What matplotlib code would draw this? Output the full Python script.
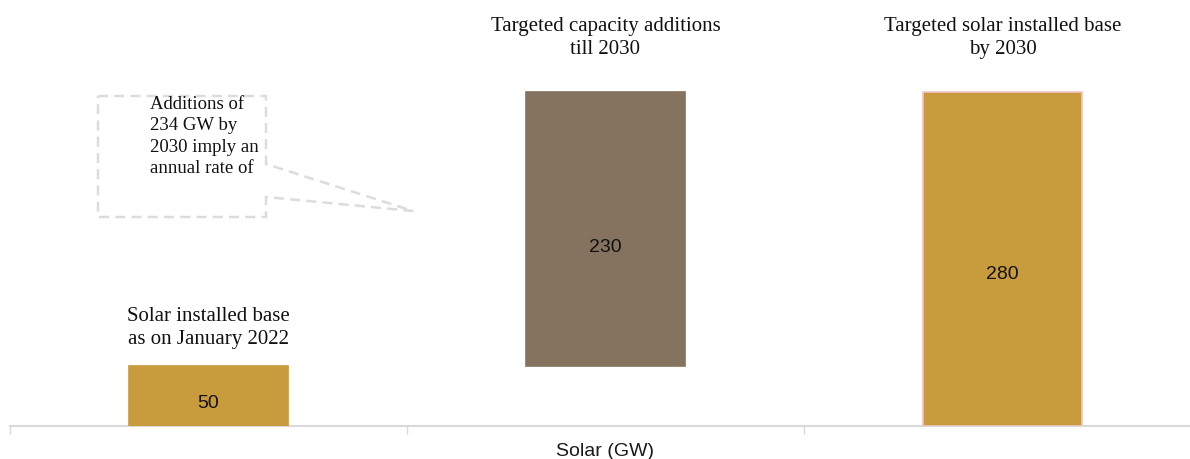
import matplotlib
matplotlib.use("Agg")
import matplotlib.pyplot as plt
from matplotlib.patches import Polygon

# waterfall data (GW)
categories = ["Solar installed base\nas on January 2022",
              "Targeted capacity additions\ntill 2030",
              "Targeted solar installed base\nby 2030"]
values = [50, 230, 280]
bottoms = [0, 50, 0]
value_labels = ["50", "230", "280"]
callout_text = "Additions of\n234 GW by\n2030 imply an\nannual rate of"
axis_title = "Solar (GW)"

gold = "#C89B3C"
brown = "#85735F"
bar_colors = [gold, brown, gold]
edge_colors = [gold, brown, "#F2C4CC"]

W, H = 1190, 460
fig = plt.figure(figsize=(W / 100, H / 100), dpi=100)
ax = fig.add_axes([10 / W, 33 / H, 1191 / W, 427 / H])

x = list(range(len(values)))
bars = ax.bar(x, values, bottom=bottoms, width=0.4, color=bar_colors,
              edgecolor=edge_colors, linewidth=1.2, zorder=3)

ax.set_xlim(-0.5, 2.5)
ax.set_ylim(0, 358)

for s in ["top", "right", "left"]:
    ax.spines[s].set_visible(False)
ax.spines["bottom"].set_color("#D9D9D9")
ax.spines["bottom"].set_linewidth(1.5)
ax.set_yticks([])
ax.set_xticks([-0.5, 0.5, 1.5, 2.5])
ax.set_xticklabels([])
ax.tick_params(axis="x", length=6, width=1, color="#D9D9D9", direction="out")
ax.set_xlabel(axis_title, fontsize=14, family=["Liberation Sans Narrow", "Liberation Sans"],
              labelpad=2, color="#1a1a1a")

serif = ["Liberation Serif", "DejaVu Serif"]
label_offsets = [18, 34, 34]
value_offsets = [-6, -17, -14]
for i, (b, v) in enumerate(zip(bottoms, values)):
    ax.annotate(categories[i], xy=(i, b + v), xytext=(0, label_offsets[i]),
                textcoords="offset pixels", ha="center", va="bottom",
                fontsize=15, family=serif, linespacing=1.3, color="#111111")
    ax.annotate(value_labels[i], xy=(i, b + v / 2), xytext=(0, value_offsets[i]),
                textcoords="offset pixels", ha="center", va="center",
                fontsize=14, family=["Liberation Sans", "DejaVu Sans"], color="#111111")

# dashed callout box with pointer
pts = [(98, 97), (266, 97), (266, 165), (413, 212), (266, 198), (266, 218), (98, 218)]
pts = [(px / W, 1 - py / H) for px, py in pts]
fig.patches.append(Polygon(pts, closed=True, fill=False, edgecolor="#DCDCDC",
                           linestyle=(0, (4, 2.5)), linewidth=1.8,
                           transform=fig.transFigure))
fig.text(150 / W, 1 - 96 / H, callout_text, ha="left", va="top", fontsize=13.5,
         family=serif, linespacing=1.34, color="#111111")

fig.savefig("out.png", dpi=100)
